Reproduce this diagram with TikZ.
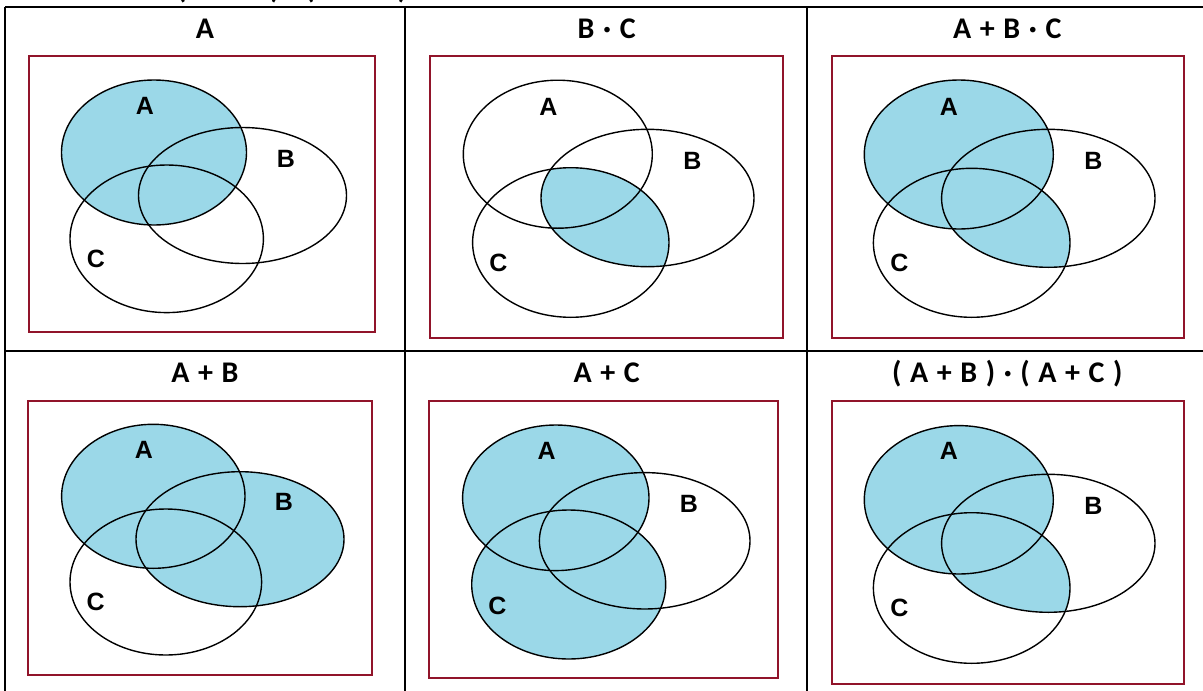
\documentclass[tikz,border=0pt]{standalone}
\usepackage{fontspec}
\newfontfamily\titlefont{Carlito}
\newfontfamily\vennfont{Liberation Sans}
\newcommand\mytitlestyle{\titlefont\bfseries\fontsize{30}{32}\selectfont\spaceskip=8.6pt\relax}
\definecolor{vennblue}{RGB}{155,216,232}
\definecolor{framered}{RGB}{145,20,42}
\tikzset{
  vset/.style={draw=black, line width=1.4pt},
  shaded/.style={fill=vennblue},
  frame/.style={draw=framered, line width=2.3pt},
  grid/.style={draw=black, line width=2.2pt},
  title/.style={font=\mytitlestyle, inner sep=0pt, anchor=base},
  lab/.style={font=\vennfont\bfseries\fontsize{25}{27}\selectfont, inner sep=0pt}
}
\begin{document}
\begin{tikzpicture}[x=1pt,y=-1pt]
\useasboundingbox (0,0) rectangle (1203,691);
% heading above the table, cut off by the top edge as in the source
\begin{scope}
\clip (0,0) rectangle (1203,691);
\node[title] (head) at (292,-1.5) {( A + B ) · ( A + C )};
\end{scope}
% table grid
\draw[grid] (5,7) -- (1210,7);
\draw[grid] (5,351) -- (1210,351);
\draw[grid] (5,7) -- (5,700);
\draw[grid] (405,7) -- (405,700);
\draw[grid] (807,7) -- (807,700);

% ---------- cell 1 : A ----------
\node[title] (t1) at (205,38.3) {A};
\draw[frame] (29.3,56) rectangle (375,332);
\fill[shaded] (154,152.5) ellipse [x radius=92.5pt, y radius=72.5pt];
\draw[vset] (154,152.5) ellipse [x radius=92.5pt, y radius=72.5pt];
\draw[vset] (242.5,195.5) ellipse [x radius=104pt, y radius=68pt];
\draw[vset] (166.7,238.8) ellipse [x radius=96.7pt, y radius=73.8pt];
\node[lab] (a1) at (145,106) {A};
\node[lab] (b1) at (286,159) {B};
\node[lab] (c1) at (96,259) {C};

% ---------- cell 2 : B . C ----------
\node[title] (t2) at (606.7,38.3) {B · C};
\draw[frame] (430,56) rectangle (783,338);
\begin{scope}
\clip (647.5,198) ellipse [x radius=106.5pt, y radius=68.7pt];
\fill[shaded] (570.8,242.5) ellipse [x radius=98.2pt, y radius=74.8pt];
\end{scope}
\draw[vset] (557.8,154.2) ellipse [x radius=94.5pt, y radius=74pt];
\draw[vset] (647.5,198) ellipse [x radius=106.5pt, y radius=68.7pt];
\draw[vset] (570.8,242.5) ellipse [x radius=98.2pt, y radius=74.8pt];
\node[lab] (a2) at (548.3,106.7) {A};
\node[lab] (b2) at (692.3,161) {B};
\node[lab] (c2) at (498.3,263.3) {C};

% ---------- cell 3 : A + B . C ----------
\node[title] (t3) at (1007.3,38.3) {A + B · C};
\draw[frame] (831.7,56) rectangle (1184,338);
\fill[shaded] (958.8,154.5) ellipse [x radius=94.5pt, y radius=74.5pt];
\begin{scope}
\clip (1048.3,198.3) ellipse [x radius=106.7pt, y radius=69pt];
\fill[shaded] (971.7,242.8) ellipse [x radius=98.3pt, y radius=74.5pt];
\end{scope}
\draw[vset] (958.8,154.5) ellipse [x radius=94.5pt, y radius=74.5pt];
\draw[vset] (1048.3,198.3) ellipse [x radius=106.7pt, y radius=69pt];
\draw[vset] (971.7,242.8) ellipse [x radius=98.3pt, y radius=74.5pt];
\node[lab] (a3) at (949,106.7) {A};
\node[lab] (b3) at (1093.3,161) {B};
\node[lab] (c3) at (899.3,263.3) {C};

% ---------- cell 4 : A + B ----------
\node[title] (t4) at (205,382.7) {A + B};
\draw[frame] (28.3,401) rectangle (372.3,675);
\fill[shaded] (153.3,496.3) ellipse [x radius=91.7pt, y radius=72pt];
\fill[shaded] (240,539.2) ellipse [x radius=104pt, y radius=67.5pt];
\draw[vset] (153.3,496.3) ellipse [x radius=91.7pt, y radius=72pt];
\draw[vset] (240,539.2) ellipse [x radius=104pt, y radius=67.5pt];
\draw[vset] (165.8,582) ellipse [x radius=95.8pt, y radius=73pt];
\node[lab] (a4) at (144,450) {A};
\node[lab] (b4) at (284,502.3) {B};
\node[lab] (c4) at (95.7,602.3) {C};

% ---------- cell 5 : A + C ----------
\node[title] (t5) at (606.7,382.7) {A + C};
\draw[frame] (429.3,401) rectangle (778.3,677.7);
\fill[shaded] (555.8,497.8) ellipse [x radius=93.2pt, y radius=72.8pt];
\fill[shaded] (568.7,584.5) ellipse [x radius=97pt, y radius=74.5pt];
\draw[vset] (555.8,497.8) ellipse [x radius=93.2pt, y radius=72.8pt];
\draw[vset] (644.7,540.8) ellipse [x radius=105.3pt, y radius=68.2pt];
\draw[vset] (568.7,584.5) ellipse [x radius=97pt, y radius=74.5pt];
\node[lab] (a5) at (546.7,451) {A};
\node[lab] (b5) at (689,504) {B};
\node[lab] (c5) at (497.3,605.7) {C};

% ---------- cell 6 : (A + B) . (A + C) ----------
\node[title] (t6) at (1007.3,382.7) {( A + B ) · ( A + C )};
\draw[frame] (831.7,401) rectangle (1184,684);
\fill[shaded] (958.8,499.8) ellipse [x radius=94.5pt, y radius=74.2pt];
\begin{scope}
\clip (1048.3,543.3) ellipse [x radius=106.7pt, y radius=69pt];
\fill[shaded] (971.7,588) ellipse [x radius=98.3pt, y radius=75.3pt];
\end{scope}
\draw[vset] (958.8,499.8) ellipse [x radius=94.5pt, y radius=74.2pt];
\draw[vset] (1048.3,543.3) ellipse [x radius=106.7pt, y radius=69pt];
\draw[vset] (971.7,588) ellipse [x radius=98.3pt, y radius=75.3pt];
\node[lab] (a6) at (949,451) {A};
\node[lab] (b6) at (1093.3,506) {B};
\node[lab] (c6) at (899.3,608.3) {C};
\end{tikzpicture}
\end{document}
